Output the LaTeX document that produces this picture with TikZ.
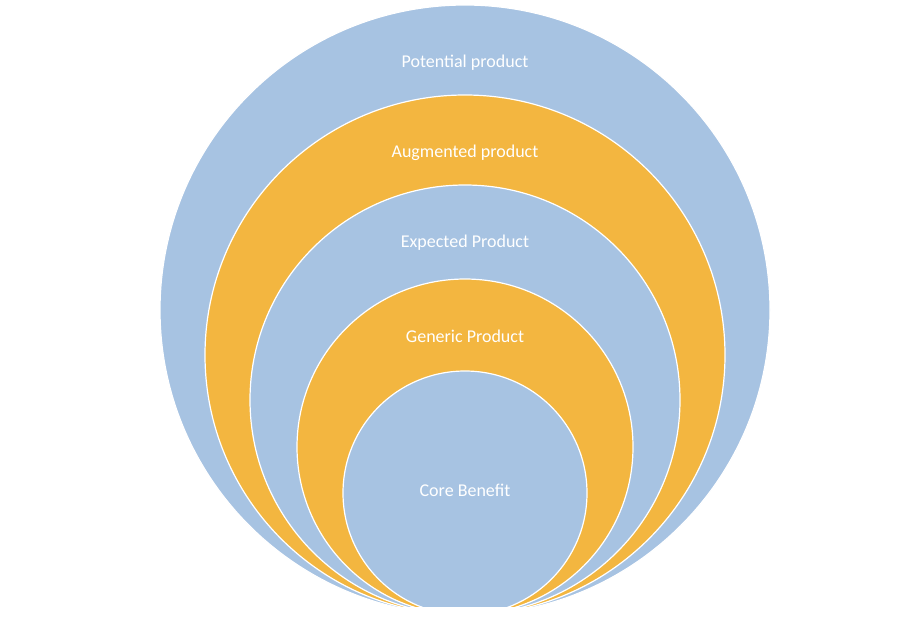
\documentclass[tikz,border=0pt]{standalone}
\usepackage{fontspec}
\setmainfont{Carlito}
\definecolor{ringblue}{HTML}{A7C3E2}
\definecolor{ringorange}{HTML}{F3B640}
\begin{document}
\begin{tikzpicture}[x=1pt,y=-1pt,
	ring/.style={circle, draw=white, line width=1.2pt, inner sep=0pt},
	label/.style={text=white, font=\fontsize{18}{20}\selectfont}]
	\useasboundingbox (0,0) rectangle (924,640);
	\clip (0,0) rectangle (924,606);
	
	\node [ring, fill=ringblue, minimum size=610] (potential) at (465,310) {};
	\node [ring, fill=ringorange, minimum size=520] (augmented) at (465,355) {};
	\node [ring, fill=ringblue, minimum size=430] (expected) at (465,400) {};
	\node [ring, fill=ringorange, minimum size=336] (generic) at (465,447) {};
	\node [ring, fill=ringblue, minimum size=244] (core) at (465,493) {};
	
	\node [label] (tpotential) at (465,63) {Potential product};
	\node [label] (taugmented) at (465,153) {Augmented product};
	\node [label] (texpected) at (465,243) {Expected Product};
	\node [label] (tgeneric) at (465,336) {Generic Product};
	\node [label] (tcore) at (465,490) {Core Benefit};
\end{tikzpicture}
\end{document}
